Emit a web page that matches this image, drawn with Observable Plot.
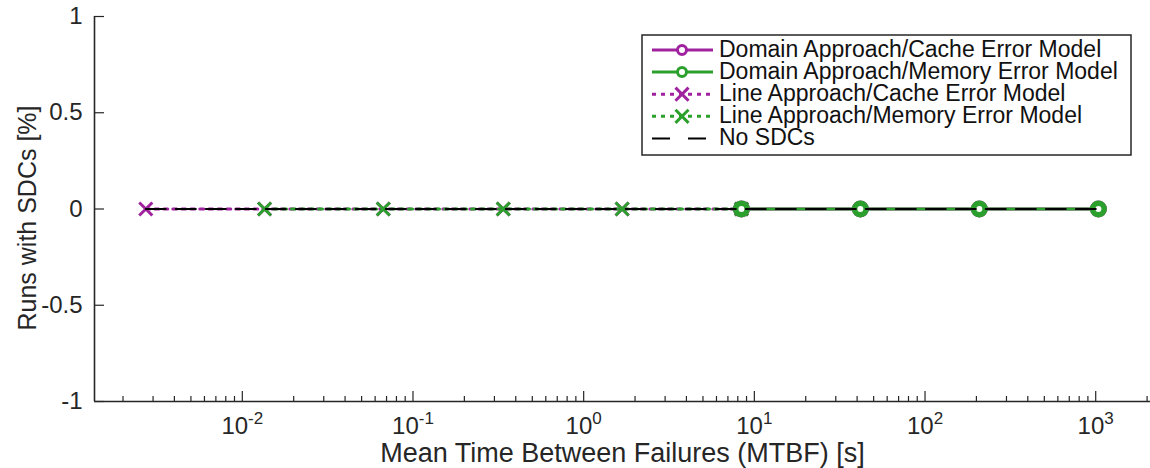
<!DOCTYPE html>
<html>
<head>
<meta charset="utf-8">
<script src="https://cdn.jsdelivr.net/npm/d3@7"></script>
<script src="https://cdn.jsdelivr.net/npm/@observablehq/plot@0.6"></script>
<style>
  body { margin: 0; background: #fff; }
  #chart { width: 1150px; height: 468px; }
  svg text { font-family: "Liberation Sans", Arial, Helvetica, sans-serif; }
</style>
</head>
<body>
<div id="chart"></div>
<script>
// ---- data ----
const lineCacheMtbf = [0.00272, 0.0135, 0.0670, 0.338, 1.68, 8.4];
const lineCacheSdc = [0, 0, 0, 0, 0, 0];
const lineMemoryMtbf = [0.0135, 0.0670, 0.338, 1.68, 8.4];
const lineMemorySdc = [0, 0, 0, 0, 0];
const domainCacheMtbf = [8.4, 41.8, 208, 1037];
const domainCacheSdc = [0, 0, 0, 0];
const domainMemoryMtbf = [8.4, 41.8, 208, 1037];
const domainMemorySdc = [0, 0, 0, 0];
const noSdcMtbf = [0.00272, 0.0135, 0.0670, 0.338, 1.68, 8.4, 41.8, 208, 1037];
const noSdcValues = [0, 0, 0, 0, 0, 0, 0, 0, 0];

const xDecades = [1e-2, 1e-1, 1, 10, 100, 1000];
const xExponents = ["-2", "-1", "0", "1", "2", "3"];
const xMinorDecades = [1e-3, 1e-2, 1e-1, 1, 10, 100, 1000];
const xMinorMultipliers = [2, 3, 4, 5, 6, 7, 8, 9];
const yTicks = [-1, -0.5, 0, 0.5, 1];
const yTickLabels = ["-1", "-0.5", "0", "0.5", "1"];
const xLabel = "Mean Time Between Failures (MTBF) [s]";
const yLabel = "Runs with SDCs [%]";
const legendNames = [
  "Domain Approach/Cache Error Model",
  "Domain Approach/Memory Error Model",
  "Line Approach/Cache Error Model",
  "Line Approach/Memory Error Model",
  "No SDCs"
];

// ---- layout / style ----
const W = 1150, H = 468, mL = 94, mR = 0, mT = 16, mB = 67;
const innerW = W - mL - mR, innerH = H - mT - mB;
const xDomain = [Math.pow(10, -2.866), Math.pow(10, 3.321)];
const axisColor = "#262626";
const purple = "#a0229f";
const green = "#2ca02c";
const dotted = "4,5";
const dashed = "20,10";

const minorTicks = [];
for (const d of xMinorDecades) for (const k of xMinorMultipliers) {
  const v = k * d;
  if (v >= xDomain[0] && v <= xDomain[1]) minorTicks.push(v);
}
const negIdx = xExponents.map((e, i) => i).filter(i => xExponents[i].startsWith("-"));
const posIdx = xExponents.map((e, i) => i).filter(i => !xExponents[i].startsWith("-"));

const baseLabel = (idx, dx) => Plot.text(idx, {
  x: i => xDecades[i], frameAnchor: "bottom", text: () => "10",
  textAnchor: "end", lineAnchor: "bottom", dx, dy: 32, fontSize: 24, fill: axisColor
});
const expLabel = (idx, dx) => Plot.text(idx, {
  x: i => xDecades[i], frameAnchor: "bottom", text: i => xExponents[i],
  textAnchor: "start", lineAnchor: "bottom", dx, dy: 22, fontSize: 17, fill: axisColor
});

const chart = Plot.plot({
  width: W, height: H,
  marginLeft: mL, marginRight: mR, marginTop: mT, marginBottom: mB,
  x: {type: "log", domain: xDomain, axis: null},
  y: {domain: [-1, 1], axis: null},
  style: {fontFamily: "Liberation Sans, Arial, sans-serif", background: "white", color: axisColor},
  marks: [
    // ticks (inward)
    Plot.tickX(minorTicks, {x: d => d, insetTop: innerH - 5, stroke: axisColor, strokeWidth: 1.2}),
    Plot.tickX(xDecades, {x: d => d, insetTop: innerH - 10, stroke: axisColor, strokeWidth: 1.2}),
    Plot.tickY(yTicks, {y: d => d, insetRight: innerW - 10, stroke: axisColor, strokeWidth: 1.2}),
    // axis lines
    Plot.ruleY([-1], {y: d => d, stroke: axisColor, strokeWidth: 1.6}),
    Plot.ruleX([xDomain[0]], {x: d => d, stroke: axisColor, strokeWidth: 1.6}),
    // tick labels
    Plot.text(yTicks, {y: d => d, frameAnchor: "left", text: (d, i) => yTickLabels[i],
      textAnchor: "end", dx: -12, fontSize: 24, fill: axisColor}),
    baseLabel(negIdx, 5.8), expLabel(negIdx, 5.8),
    baseLabel(posIdx, 8.6), expLabel(posIdx, 8.6),
    // axis titles
    Plot.text([xLabel], {frameAnchor: "bottom", text: d => d, lineAnchor: "bottom",
      textAnchor: "middle", dy: 60, fontSize: 27, fill: axisColor}),
    Plot.text([yLabel], {frameAnchor: "left", text: d => d, rotate: -90,
      textAnchor: "middle", dx: -67, dy: 9, fontSize: 25, fill: axisColor}),
    // series lines
    Plot.line(lineCacheMtbf, {x: d => d, y: (d, i) => lineCacheSdc[i], stroke: purple, strokeWidth: 3, strokeDasharray: dotted}),
    Plot.line(lineMemoryMtbf, {x: d => d, y: (d, i) => lineMemorySdc[i], stroke: green, strokeWidth: 3, strokeDasharray: dotted}),
    Plot.line(domainCacheMtbf, {x: d => d, y: (d, i) => domainCacheSdc[i], stroke: purple, strokeWidth: 3}),
    Plot.line(domainMemoryMtbf, {x: d => d, y: (d, i) => domainMemorySdc[i], stroke: green, strokeWidth: 3}),
    // markers
    Plot.dot(lineCacheMtbf, {x: d => d, y: (d, i) => lineCacheSdc[i], symbol: "times", r: 6, stroke: purple, strokeWidth: 3}),
    Plot.dot(lineMemoryMtbf, {x: d => d, y: (d, i) => lineMemorySdc[i], symbol: "times", r: 6, stroke: green, strokeWidth: 3}),
    Plot.dot(domainCacheMtbf, {x: d => d, y: (d, i) => domainCacheSdc[i], r: 5.75, stroke: purple, strokeWidth: 5.5, fill: "white"}),
    Plot.dot(domainMemoryMtbf, {x: d => d, y: (d, i) => domainMemorySdc[i], r: 5.75, stroke: green, strokeWidth: 5.5, fill: "white"}),
    // No SDCs reference
    Plot.line(noSdcMtbf, {x: d => d, y: (d, i) => noSdcValues[i], stroke: "black", strokeWidth: 2, strokeDasharray: dashed})
  ]
});
document.getElementById("chart").appendChild(chart);

// ---- legend (box inside the axes, upper right) ----
const svg = d3.select(chart);
const lg = svg.append("g").attr("transform", "translate(642,35)").attr("text-anchor", "start");
lg.append("rect").attr("width", 489).attr("height", 120)
  .attr("fill", "white").attr("stroke", axisColor).attr("stroke-width", 1.5);
const legendStyles = [
  {stroke: purple, dash: null, marker: "circle"},
  {stroke: green, dash: null, marker: "circle"},
  {stroke: purple, dash: dotted, marker: "times"},
  {stroke: green, dash: dotted, marker: "times"},
  {stroke: "black", dash: "18,18", marker: null, width: 2}
];
legendNames.forEach((name, i) => {
  const s = legendStyles[i];
  const row = lg.append("g").attr("transform", `translate(0,${15 + i * 22.1})`);
  row.append("line").attr("x1", 10).attr("x2", 71).attr("y1", 0).attr("y2", 0)
    .attr("stroke", s.stroke).attr("stroke-width", s.width || 3)
    .attr("stroke-dasharray", s.dash);
  if (s.marker === "circle") {
    row.append("circle").attr("cx", 40).attr("cy", 0).attr("r", 4.5)
      .attr("fill", "white").attr("stroke", s.stroke).attr("stroke-width", 3);
  } else if (s.marker === "times") {
    row.append("path").attr("transform", "translate(40,0)")
      .attr("d", d3.symbol(d3.symbolTimes, 113)())
      .attr("fill", "none").attr("stroke", s.stroke).attr("stroke-width", 3);
  }
  row.append("text").attr("x", 77).attr("y", 0).attr("dy", "0.3em")
    .attr("text-anchor", "start")
    .attr("font-size", 23).attr("fill", "#111").text(name);
});
</script>
</body>
</html>
